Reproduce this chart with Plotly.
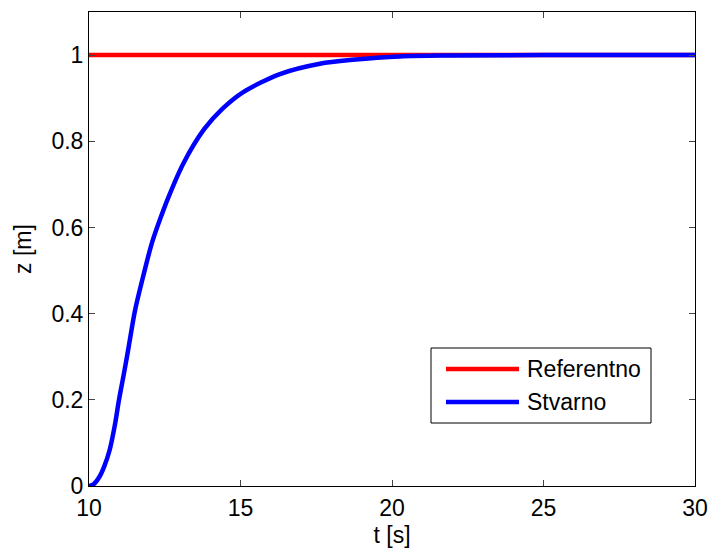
import plotly.graph_objects as go

# Data
t_ref = [10, 30]
z_ref = [1.0, 1.0]

t_act = [10.0, 10.15, 10.35, 10.5, 10.68, 10.85, 10.99, 11.15, 11.29, 11.52, 11.8,
         12.07, 12.35, 12.62, 13.11, 13.8, 14.4, 15.09, 16.3, 17.62, 18.7, 20.26,
         22.0, 25.0, 30.0]
z_act = [0.0, 0.004, 0.022, 0.045, 0.083, 0.14, 0.2, 0.26, 0.315, 0.408, 0.49,
         0.5625, 0.62, 0.67, 0.748, 0.828, 0.875, 0.914, 0.956, 0.98, 0.989, 0.997,
         0.999, 1.0, 1.0]

x_ticks = [10, 15, 20, 25, 30]
y_ticks = [0, 0.2, 0.4, 0.6, 0.8, 1.0]
y_tick_text = ["0", "0.2", "0.4", "0.6", "0.8", "1"]
legend_names = ["Referentno", "Stvarno"]
colors = ["#ff0000", "#0000ff"]

FONT = "Liberation Sans, Arial, sans-serif"
FS = 23

fig = go.Figure()
fig.add_trace(go.Scatter(x=t_ref, y=z_ref, mode="lines", name=legend_names[0],
                         line=dict(color=colors[0], width=4.5), showlegend=False))
fig.add_trace(go.Scatter(x=t_act, y=z_act, mode="lines", name=legend_names[1],
                         line=dict(color=colors[1], width=4.5, shape="spline", smoothing=0.8),
                         showlegend=False))

# Manual legend (to match the long legend line samples)
L, R, B, T = 89, 695, 486, 12
W, H = R - L, B - T
def px(x):
    return (x - L) / W
def py(y):
    return (B - y) / H

shapes = [
    dict(type="rect", xref="paper", yref="paper", x0=px(431), x1=px(651), y0=py(423), y1=py(348),
         line=dict(color="black", width=1), fillcolor="white", layer="above"),
]
annotations = []
for i, (name, c) in enumerate(zip(legend_names, colors)):
    yy = 369 + i * 33
    shapes.append(dict(type="line", xref="paper", yref="paper", x0=px(446), x1=px(519),
                       y0=py(yy), y1=py(yy), line=dict(color=c, width=4.5), layer="above"))
    annotations.append(dict(text=name, xref="paper", yref="paper", x=px(525), y=py(yy),
                            xanchor="left", yanchor="middle", showarrow=False,
                            font=dict(family=FONT, size=FS, color="black")))

fig.update_layout(
    width=710, height=548,
    margin=dict(l=L, r=710 - R, t=T, b=548 - B, autoexpand=False),
    paper_bgcolor="white", plot_bgcolor="white",
    font=dict(family=FONT, size=FS, color="black"),
    shapes=shapes, annotations=annotations,
    xaxis=dict(range=[10, 30], tickvals=x_ticks, ticks="inside", ticklen=6,
               showline=True, linecolor="black", linewidth=1, mirror="ticks",
               showgrid=False, zeroline=False, ticklabelstandoff=1, automargin=False,
               title=dict(text="t [s]", standoff=13, font=dict(size=FS)),
               tickfont=dict(size=FS)),
    yaxis=dict(range=[0, 1.1], tickvals=y_ticks, ticktext=y_tick_text, ticks="inside", ticklen=6,
               showline=True, linecolor="black", linewidth=1, mirror="ticks",
               showgrid=False, zeroline=False, automargin=False,
               title=dict(text="z [m]", standoff=13, font=dict(size=FS)),
               tickfont=dict(size=FS)),
)

fig.write_html("out.html")
